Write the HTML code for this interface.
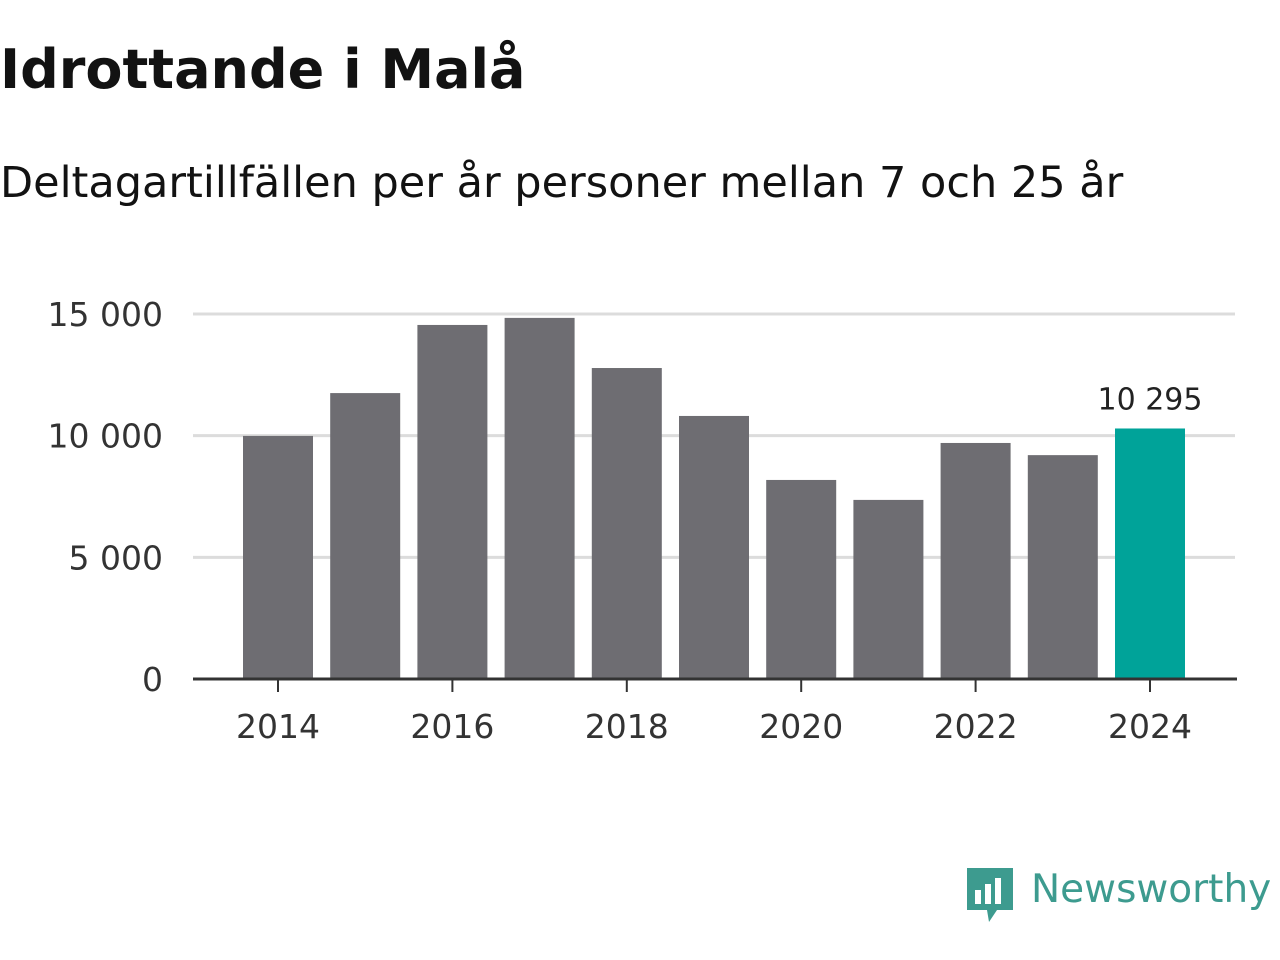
<!DOCTYPE html>
<html><head><meta charset="utf-8">
<style>
body{margin:0;width:1280px;height:960px;background:#fff;font-family:"DejaVu Sans",sans-serif;overflow:hidden;position:relative}
h1{position:absolute;left:0;top:38px;margin:0;font-size:54px;font-weight:bold;color:#121212;white-space:nowrap}
.sub{position:absolute;left:0;top:158px;font-size:43px;color:#121212;white-space:nowrap}
svg{position:absolute;left:0;top:0}
</style></head><body>
<h1>Idrottande i Malå</h1>
<div class="sub">Deltagartillfällen per år personer mellan 7 och 25 år</div>
<svg id="chart" width="1280" height="960" font-family="DejaVu Sans"></svg>
<div style="position:absolute;left:965px;top:866px;display:flex;align-items:center">
<svg width="50" height="60" style="position:static"><path d="M2 2h46v42H32l-8 12-2-12H2z" fill="#3d9b8f"/><rect x="10" y="24" width="6" height="14" fill="#fff"/><rect x="20" y="18" width="6" height="20" fill="#fff"/><rect x="30" y="12" width="6" height="26" fill="#fff"/></svg>
<span style="font-size:39px;color:#3d9b8f;margin-left:16px;margin-top:-14px">Newsworthy</span></div>
<script>
const years=[2014,2015,2016,2017,2018,2019,2020,2021,2022,2023,2024];
const values=[9990,11750,14550,14840,12780,10810,8180,7360,9700,9200,10295];
const yTicks=[0,5000,10000,15000];
const yTickLabels=["0","5 000","10 000","15 000"];
const xTickYears=[2014,2016,2018,2020,2022,2024];
const svg=document.getElementById('chart');const NS='http://www.w3.org/2000/svg';
const y=v=>679-v/15000*365;const x=yr=>278+(yr-2014)*87.2;
function mk(t,a,txt){const e=document.createElementNS(NS,t);for(const k in a)e.setAttribute(k,a[k]);if(txt!=null)e.textContent=txt;svg.appendChild(e);return e;}
yTicks.forEach((t,i)=>{
 if(t>0){const g=mk('line',{x1:193,x2:1235,y1:y(t),y2:y(t),stroke:'#dcdcdc','stroke-width':3});
 
 }
 const l=mk('text',{x:163,y:y(t)+12,'text-anchor':'end','font-size':33,fill:'#333'},yTickLabels[i]);
 
 
});
years.forEach((yr,i)=>{
 const last=i===years.length-1;
 const b=mk('rect',{x:x(yr)-35,y:y(values[i]),width:70,height:679-y(values[i]),fill:last?'#00a399':'#6e6d72'});
 
 
 if(last){const t=mk('text',{x:x(yr),y:y(values[i])-19,'text-anchor':'middle','font-size':30,fill:'#222'},values[i].toLocaleString('sv-SE').replace(/\s/g,' '));
 
 }
});
const ax=mk('line',{x1:193,x2:1237,y1:679,y2:679,stroke:'#333','stroke-width':3});


xTickYears.forEach(yr=>{
 mk('line',{x1:x(yr),x2:x(yr),y1:679,y2:692,stroke:'#333','stroke-width':2});
 const t=mk('text',{x:x(yr),y:738,'text-anchor':'middle','font-size':33,fill:'#333'},yr);
 
 
});
</script>
</body></html>
